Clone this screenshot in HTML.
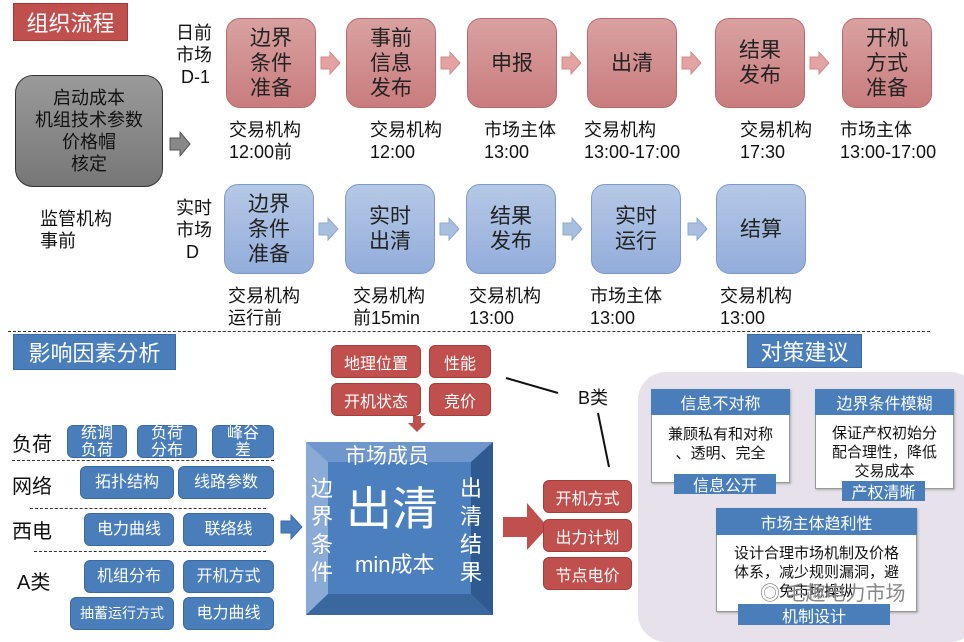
<!DOCTYPE html>
<html><head><meta charset="utf-8"><style>
*{margin:0;padding:0;box-sizing:border-box}
body{width:964px;height:634px;position:relative;background:#fff;overflow:hidden;font-family:"Liberation Sans","Noto Sans CJK SC",sans-serif;color:#111}
.a{position:absolute}
.c{display:flex;align-items:center;justify-content:center;text-align:center}
.rb{background:linear-gradient(#d9a1a1,#c97c7d);border:1px solid #b86a6a;border-radius:14px;font-size:21px;line-height:25px;color:#222}
.bb{background:linear-gradient(#b5c8e6,#93addb);border:1px solid #7f9ac8;border-radius:14px;font-size:21px;line-height:25px;color:#222}
.lb{font-size:18px;line-height:22px;color:#111}
.sb{background:#4a7ebb;border:1px solid #3b6aa3;border-radius:6px;color:#fff;font-size:16px;line-height:17px}
.rs{background:#c0504d;border:1px solid #a33e3b;border-radius:6px;color:#fff;font-size:16px}
.card{background:#fff;border:1px solid #999;box-shadow:1px 1px 2px #aaa}
.hd{background:#4a7ebb;color:#fff;font-size:16px}
.dash{border-top:1px dashed #333;height:0}
</style></head><body>
<div class="a c" style="left:13px;top:3px;width:115px;height:38px;background:#c0504d;color:#fff;font-size:22px;border:1px solid #a33">组织流程</div>
<div class="a lb" style="left:176px;top:22px;font-size:18px">日前<br>市场<br>&nbsp;D-1</div>
<div class="a lb" style="left:176px;top:197px;font-size:18px">实时<br>市场<br>&nbsp;&nbsp;D</div>
<div class="a c" style="left:15px;top:75px;width:148px;height:112px;background:linear-gradient(#9a9a9a,#777);border:1px solid #333;border-radius:18px;font-size:18px;line-height:22px">启动成本<br>机组技术参数<br>价格帽<br>核定</div>
<svg class="a" style="left:168px;top:131px" width="24" height="26"><polygon points="2,7 12,7 12,1 22,13 12,25 12,19 2,19" fill="#888" stroke="#555"/></svg>
<div class="a lb" style="left:40px;top:208px">监管机构<br>事前</div>

<div class="a c rb" style="left:226px;top:18px;width:90px;height:90px">边界<br>条件<br>准备</div>
<div class="a c rb" style="left:346px;top:18px;width:90px;height:90px">事前<br>信息<br>发布</div>
<div class="a c rb" style="left:467px;top:18px;width:90px;height:90px">申报</div>
<div class="a c rb" style="left:587px;top:18px;width:90px;height:90px">出清</div>
<div class="a c rb" style="left:715px;top:18px;width:90px;height:90px">结果<br>发布</div>
<div class="a c rb" style="left:842px;top:18px;width:90px;height:90px">开机<br>方式<br>准备</div>
<svg class="a" style="left:0;top:0" width="964" height="300">
<g fill="#e4a3a3" stroke="#d08a8a">
<polygon points="321,57 330,57 330,52 340,63 330,74 330,69 321,69"/>
<polygon points="441,57 450,57 450,52 460,63 450,74 450,69 441,69"/>
<polygon points="562,57 571,57 571,52 581,63 571,74 571,69 562,69"/>
<polygon points="682,57 691,57 691,52 701,63 691,74 691,69 682,69"/>
<polygon points="810,57 819,57 819,52 829,63 819,74 819,69 810,69"/>
</g>
<g fill="#a9bfe0" stroke="#8ea8d2">
<polygon points="319,223 328,223 328,218 338,229 328,240 328,235 319,235"/>
<polygon points="440,223 449,223 449,218 459,229 449,240 449,235 440,235"/>
<polygon points="563,223 572,223 572,218 582,229 572,240 572,235 563,235"/>
<polygon points="688,223 697,223 697,218 707,229 697,240 697,235 688,235"/>
</g></svg>
<div class="a lb" style="left:229px;top:119px">交易机构<br>12:00前</div>
<div class="a lb" style="left:370px;top:119px">交易机构<br>12:00</div>
<div class="a lb" style="left:484px;top:119px">市场主体<br>13:00</div>
<div class="a lb" style="left:584px;top:119px">交易机构<br>13:00-17:00</div>
<div class="a lb" style="left:740px;top:119px">交易机构<br>17:30</div>
<div class="a lb" style="left:840px;top:119px">市场主体<br>13:00-17:00</div>

<div class="a c bb" style="left:224px;top:184px;width:90px;height:90px">边界<br>条件<br>准备</div>
<div class="a c bb" style="left:345px;top:184px;width:90px;height:90px">实时<br>出清</div>
<div class="a c bb" style="left:466px;top:184px;width:90px;height:90px">结果<br>发布</div>
<div class="a c bb" style="left:591px;top:184px;width:90px;height:90px">实时<br>运行</div>
<div class="a c bb" style="left:716px;top:184px;width:90px;height:90px">结算</div>
<div class="a lb" style="left:228px;top:285px">交易机构<br>运行前</div>
<div class="a lb" style="left:353px;top:285px">交易机构<br>前15min</div>
<div class="a lb" style="left:469px;top:285px">交易机构<br>13:00</div>
<div class="a lb" style="left:590px;top:285px">市场主体<br>13:00</div>
<div class="a lb" style="left:720px;top:285px">交易机构<br>13:00</div>

<div class="a dash" style="left:8px;top:331px;width:922px"></div>
<div class="a c" style="left:13px;top:334px;width:163px;height:36px;background:#4a7ebb;color:#fff;font-size:22px;border:1px solid #3b6aa3">影响因素分析</div>
<div class="a c" style="left:747px;top:334px;width:115px;height:34px;background:#4a7ebb;color:#fff;font-size:22px;border:1px solid #3b6aa3">对策建议</div>

<div class="a" style="left:12px;top:428px;font-size:20px">负荷</div>
<div class="a c sb" style="left:67px;top:425px;width:60px;height:33px">统调<br>负荷</div>
<div class="a c sb" style="left:137px;top:425px;width:60px;height:33px">负荷<br>分布</div>
<div class="a c sb" style="left:212px;top:425px;width:62px;height:33px">峰谷<br>差</div>
<div class="a dash" style="left:12px;top:460px;width:262px"></div>
<div class="a" style="left:12px;top:470px;font-size:20px">网络</div>
<div class="a c sb" style="left:80px;top:466px;width:94px;height:33px">拓扑结构</div>
<div class="a c sb" style="left:178px;top:466px;width:96px;height:33px">线路参数</div>
<div class="a dash" style="left:30px;top:508px;width:236px"></div>
<div class="a" style="left:12px;top:515px;font-size:20px">西电</div>
<div class="a c sb" style="left:84px;top:513px;width:90px;height:33px">电力曲线</div>
<div class="a c sb" style="left:183px;top:513px;width:91px;height:33px">联络线</div>
<div class="a dash" style="left:34px;top:551px;width:232px"></div>
<div class="a" style="left:17px;top:566px;font-size:20px">A类</div>
<div class="a c sb" style="left:84px;top:560px;width:90px;height:33px">机组分布</div>
<div class="a c sb" style="left:183px;top:560px;width:91px;height:33px">开机方式</div>
<div class="a c sb" style="left:70px;top:597px;width:104px;height:33px;font-size:14px">抽蓄运行方式</div>
<div class="a c sb" style="left:183px;top:597px;width:91px;height:33px">电力曲线</div>
<svg class="a" style="left:280px;top:514px" width="24" height="26"><polygon points="1,7 11,7 11,1 22,13 11,25 11,19 1,19" fill="#4a7ebb" stroke="#3b6aa3"/></svg>

<svg class="a" style="left:306px;top:442px" width="187" height="173">
<rect width="187" height="173" fill="#4a7ebb"/>
<polygon points="0,0 187,0 165,20 22,20" fill="#6f97cc"/>
<polygon points="0,0 22,20 22,152 0,173" fill="#8aabd6"/>
<polygon points="187,0 187,173 165,152 165,20" fill="#2e5a8f"/>
<polygon points="0,173 22,152 165,152 187,173" fill="#3a679e"/>
<rect x="22" y="20" width="143" height="132" fill="#4b7fbe"/>
</svg>
<div class="a" style="left:345px;top:440px;color:#fff;font-size:21px">市场成员</div>
<div class="a" style="left:311px;top:475px;color:#fff;font-size:22px;line-height:28px;width:24px">边界条件</div>
<div class="a" style="left:460px;top:475px;color:#fff;font-size:22px;line-height:28px;width:24px">出清结果</div>
<div class="a" style="left:346px;top:481px;color:#fff;font-size:46px;line-height:56px">出清</div>
<div class="a" style="left:355px;top:547px;color:#fff;font-size:22px">min成本</div>

<div class="a c rs" style="left:331px;top:345px;width:90px;height:33px">地理位置</div>
<div class="a c rs" style="left:429px;top:345px;width:62px;height:33px">性能</div>
<div class="a c rs" style="left:331px;top:383px;width:90px;height:33px">开机状态</div>
<div class="a c rs" style="left:429px;top:383px;width:62px;height:33px">竞价</div>
<svg class="a" style="left:0;top:0" width="964" height="634">
<polygon points="413,416 421,416 421,423 426,423 417,432 408,423 413,423" fill="#c0504d"/>
<polygon points="503,517 527,517 527,503 548,527 527,550 527,537 503,537" fill="#c0504d"/>
<line x1="506" y1="378" x2="558" y2="393" stroke="#111" stroke-width="2"/>
<line x1="598" y1="413" x2="609" y2="467" stroke="#111" stroke-width="2"/>
</svg>
<div class="a" style="left:578px;top:384px;font-size:18px">B类</div>
<div class="a c rs" style="left:543px;top:480px;width:89px;height:33px">开机方式</div>
<div class="a c rs" style="left:543px;top:519px;width:89px;height:33px">出力计划</div>
<div class="a c rs" style="left:543px;top:557px;width:89px;height:33px">节点电价</div>

<div class="a" style="left:638px;top:372px;width:340px;height:270px;background:#e6e1ea;border-radius:28px"></div>
<div class="a card" style="left:651px;top:389px;width:139px;height:94px"></div>
<div class="a c hd" style="left:651px;top:389px;width:139px;height:26px">信息不对称</div>
<div class="a c" style="left:652px;top:425px;width:137px;font-size:15px;line-height:19px">兼顾私有和对称<br>、透明、完全</div>
<div class="a c hd" style="left:674px;top:474px;width:102px;height:20px">信息公开</div>
<div class="a card" style="left:815px;top:389px;width:139px;height:100px"></div>
<div class="a c hd" style="left:815px;top:389px;width:139px;height:26px">边界条件模糊</div>
<div class="a c" style="left:816px;top:424px;width:137px;font-size:15px;line-height:19px">保证产权初始分<br>配合理性，降低<br>交易成本</div>
<div class="a c hd" style="left:842px;top:481px;width:83px;height:20px">产权清晰</div>
<div class="a card" style="left:716px;top:508px;width:201px;height:104px"></div>
<div class="a c hd" style="left:716px;top:508px;width:201px;height:27px">市场主体趋利性</div>
<div class="a c" style="left:717px;top:544px;width:199px;font-size:15px;line-height:19px">设计合理市场机制及价格<br>体系，减少规则漏洞，避<br>免市场操纵</div>
<div class="a" style="left:760px;top:577px;font-size:20px;color:#888">◎ 毛趣电力市场</div>
<div class="a c hd" style="left:738px;top:604px;width:152px;height:21px">机制设计</div>
</body></html>
